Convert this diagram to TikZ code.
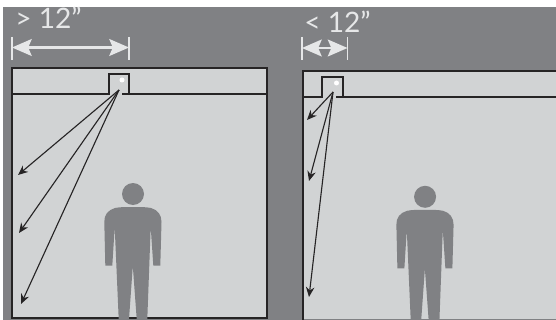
\documentclass[tikz,border=0pt]{standalone}
\usepackage{fontspec}
\setmainfont{Lato}
\usetikzlibrary{
  positioning,
  arrows.meta
}
\definecolor{backdrop}{HTML}{808184}
\definecolor{room}{HTML}{D1D3D4}
\definecolor{wall}{HTML}{262425}
\definecolor{label}{HTML}{E6E7E8}

\begin{document}
\begin{tikzpicture}[
  x=0.025cm, y=-0.025cm,
  wallline/.style={draw=wall, line width=2pt},
  ray/.style={-{Stealth[length=7pt, width=6pt]}, draw=wall, line width=0.8pt},
  span/.style={{Stealth[length=14pt, width=12pt, inset=2.5pt]}-{Stealth[length=14pt, width=12pt, inset=2.5pt]}, draw=label, line width=1.6pt},
  tick/.style={draw=label, line width=1pt},
  size/.style={text=label, font=\fontsize{20}{22}\selectfont, inner sep=0pt, anchor=west},
  figure/.pic={
    \fill[backdrop] (133,194) circle (11);
    \fill[backdrop] (133,207) .. controls (125,207) and (120,207) .. (115,208)
      .. controls (108,210) and (104,215) .. (104.3,222) -- (105.3,265.5) -- (112.3,265.5)
      -- (114.7,227) -- (118.7,319) -- (129,319) -- (132.8,266) -- (136.7,319) -- (147.3,319)
      -- (150.7,227) -- (153.3,265.5) -- (160.3,265.5) -- (161.5,222)
      .. controls (161.5,215) and (158,210) .. (151,208)
      .. controls (146,207) and (141,207) .. (133,207) -- cycle;
  }
]
  \useasboundingbox (0,0) rectangle (556,320);
  \fill[backdrop] (3,7) rectangle (556,320);

  % Left room
  \fill[room] (12,68) rectangle (267,318);
  \draw[wallline] (12,68) rectangle (267,318);
  \draw[wallline] (12,94) -- (109,94) -- (109,74) -- (129,74) -- (129,94) -- (122,94);
  \draw[wallline] (129,94) -- (267,94);
  \fill[white] (122,80) circle (2.5);
  \pic {figure};

  % Right room
  \fill[room] (303,71) rectangle (556,319);
  \draw[wallline] (556,71) -- (303,71) -- (303,320);
  \draw[wallline] (303,97) -- (322,97) -- (322,77) -- (343,77) -- (343,97) -- (336,97);
  \draw[wallline] (343,97) -- (556,97);
  \fill[white] (336.5,83) circle (2.5);
  \pic[xshift=7.3cm, yshift=-0.07cm] {figure};

  % Rays
  \coordinate (lampa) at (119,90);
  \coordinate (lowa) at (18,175);
  \coordinate (mida) at (19,233);
  \coordinate (floora) at (21,304);
  \coordinate (lampb) at (333,92);
  \coordinate (lowb) at (307,120);
  \coordinate (midb) at (309,181);
  \coordinate (floorb) at (309,297);
  \draw[ray] (lampa) -- (lowa);
  \draw[ray] (lampa) -- (mida);
  \draw[ray] (lampa) -- (floora);
  \draw[ray] (lampb) -- (lowb);
  \draw[ray] (lampb) -- (midb);
  \draw[ray] (lampb) -- (floorb);

  % Dimension marks
  \coordinate (farl) at (12,47.5);
  \coordinate (farr) at (129,47.5);
  \coordinate (nearl) at (302,48);
  \coordinate (nearr) at (347.5,48);
  \draw[tick] (12,37) -- (12,60);
  \draw[tick] (129,37) -- (129,60);
  \draw[tick] (302,37) -- (302,60);
  \draw[tick] (347.5,37) -- (347.5,60);
  \draw[span] (farl) -- (farr);
  \draw[span] (nearl) -- (nearr);
  \node[size] (farsize) at (15,18) {> 12"};
  \node[size] (nearsize) at (304,22) {< 12"};
\end{tikzpicture}
\end{document}
